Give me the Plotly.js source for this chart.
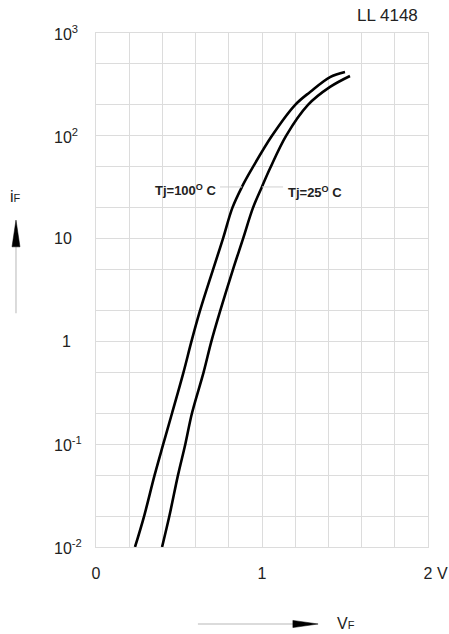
<!DOCTYPE html>
<html>
<head>
<meta charset="utf-8">
<script src="https://cdn.plot.ly/plotly-3.0.1.min.js"></script>
<style>html,body{margin:0;padding:0;background:#fff;}#chart{width:449px;height:634px;}</style>
</head>
<body>
<div id="chart"></div>
<script>
// Forward voltage (V) vs forward current (mA)
const V100 = [0.235, 0.29, 0.353, 0.405, 0.458, 0.527, 0.575, 0.627, 0.705, 0.765, 0.822, 0.88, 0.93, 1.06, 1.2, 1.29, 1.41, 1.5];
const I100 = [0.01, 0.02, 0.05, 0.1, 0.2, 0.5, 1, 2, 5, 10, 20, 32, 45, 100, 200, 267, 373, 418];
const V25  = [0.398, 0.442, 0.494, 0.538, 0.578, 0.648, 0.695, 0.749, 0.825, 0.886, 0.946, 1.0, 1.048, 1.145, 1.277, 1.41, 1.53];
const I25  = [0.01, 0.02, 0.05, 0.1, 0.2, 0.5, 1, 2, 5, 10, 20, 32, 48, 100, 200, 299, 382];

const xTickVals = [0, 1, 2];
const xTickText = ["0", "1", "2"];
const yGrid = [0.01, 0.02, 0.05, 0.1, 0.2, 0.5, 1, 2, 5, 10, 20, 50, 100, 200, 500, 1000];
const yTickVals = [0.01, 0.1, 1, 10, 100, 1000];
const yTickBase = ["10", "10", "1", "10", "10", "10"];
const yTickSup  = ["-2", "-1", "", "", "2", "3"];

const gridColor = "#dcdcdc";
const font = "Liberation Sans, Arial, sans-serif";

const traces = [
  {x: V100, y: I100, mode: "lines", line: {color: "#000", width: 2.6, shape: "spline", smoothing: 1.0}, hoverinfo: "skip"},
  {x: V25, y: I25, mode: "lines", line: {color: "#000", width: 2.6, shape: "spline", smoothing: 1.0}, hoverinfo: "skip"}
];

const annotations = [];
yTickVals.forEach((v, i) => {
  const isOne = yTickBase[i] === "1";
  annotations.push({
    xref: "paper", yref: "y", x: isOne ? -0.069 : -0.1325, y: Math.log10(v),
    xanchor: isOne ? "right" : "left", yanchor: "middle", showarrow: false,
    text: yTickBase[i] + (yTickSup[i] ? "<sup>" + yTickSup[i] + "</sup>" : ""),
    font: {family: font, size: 16, color: "#222"}
  });
});
annotations.push(
  {xref: "paper", yref: "paper", x: 1.021, y: -0.0506, xanchor: "left", yanchor: "middle", showarrow: false,
   text: "V", font: {family: font, size: 16, color: "#222"}},
  {xref: "paper", yref: "paper", x: 0.877, y: 1.035, xanchor: "center", yanchor: "middle", showarrow: false,
   text: "LL 4148", font: {family: font, size: 17, color: "#222"}},
  {xref: "x", yref: "y", x: 0.542, y: 1.47, xanchor: "center", yanchor: "middle", showarrow: false,
   text: "<b>Tj=100<sup>O</sup> C</b>", font: {family: font, size: 13, color: "#222"}},
  {xref: "x", yref: "y", x: 1.319, y: 1.45, xanchor: "center", yanchor: "middle", showarrow: false,
   text: "<b>Tj=25<sup>O</sup> C</b>", font: {family: font, size: 13, color: "#222"}},
  {xref: "paper", yref: "paper", x: -0.241, y: 0.681, xanchor: "center", yanchor: "middle", showarrow: false,
   text: "i<span style='font-size:11px'>F</span>", font: {family: font, size: 16, color: "#222"}},
  {xref: "paper", yref: "paper", x: 0.72, y: -0.148, xanchor: "left", yanchor: "middle", showarrow: false,
   text: "V<span style='font-size:11px'>F</span>", font: {family: font, size: 16, color: "#222"}}
);

const leaderY = 31.8;
const shapes = [
  // vertical iF arrow
  {type: "line", xref: "paper", yref: "paper", x0: -0.241, x1: -0.241, y0: 0.455, y1: 0.585, line: {color: "#cfcfcf", width: 1.5}},
  {type: "path", xref: "paper", yref: "paper", path: "M -0.253,0.584 L -0.229,0.584 L -0.241,0.636 Z", fillcolor: "#000", line: {color: "#000", width: 0.5}},
  // horizontal VF arrow
  {type: "line", xref: "paper", yref: "paper", x0: 0.307, x1: 0.594, y0: -0.1498, y1: -0.1498, line: {color: "#cfcfcf", width: 1.5}},
  {type: "path", xref: "paper", yref: "paper", path: "M 0.593,-0.1428 L 0.593,-0.1568 L 0.669,-0.1498 Z", fillcolor: "#000", line: {color: "#000", width: 0.5}},
  // leader lines for labels
  {type: "line", xref: "x", yref: "y", x0: 0.747, x1: 0.88, y0: leaderY, y1: leaderY, line: {color: "#d0d0d0", width: 1}},
  {type: "line", xref: "x", yref: "y", x0: 1.0, x1: 1.127, y0: leaderY, y1: leaderY, line: {color: "#d0d0d0", width: 1}}
];

const layout = {
  width: 449, height: 634,
  margin: {l: 96, r: 21, t: 33, b: 87},
  paper_bgcolor: "#fff", plot_bgcolor: "#fff",
  showlegend: false,
  xaxis: {
    range: [0, 2], tickmode: "array", tickvals: xTickVals, ticktext: xTickText,
    showgrid: true, gridcolor: gridColor, gridwidth: 1, zeroline: false,
    minor: {dtick: 0.2, tick0: 0, showgrid: true, gridcolor: gridColor, gridwidth: 1, ticks: ""},
    showline: true, linecolor: gridColor, linewidth: 1, mirror: true,
    ticks: "", ticklabelstandoff: 12,
    tickfont: {family: font, size: 16, color: "#222"}, fixedrange: true
  },
  yaxis: {
    type: "log", range: [-2, 3], tickmode: "array", tickvals: yGrid,
    showticklabels: false,
    showgrid: true, gridcolor: gridColor, gridwidth: 1, zeroline: false,
    showline: true, linecolor: gridColor, linewidth: 1, mirror: true,
    ticks: "", fixedrange: true
  },
  annotations: annotations,
  shapes: shapes
};

Plotly.newPlot("chart", traces, layout, {displayModeBar: false, staticPlot: true});
</script>
</body>
</html>
